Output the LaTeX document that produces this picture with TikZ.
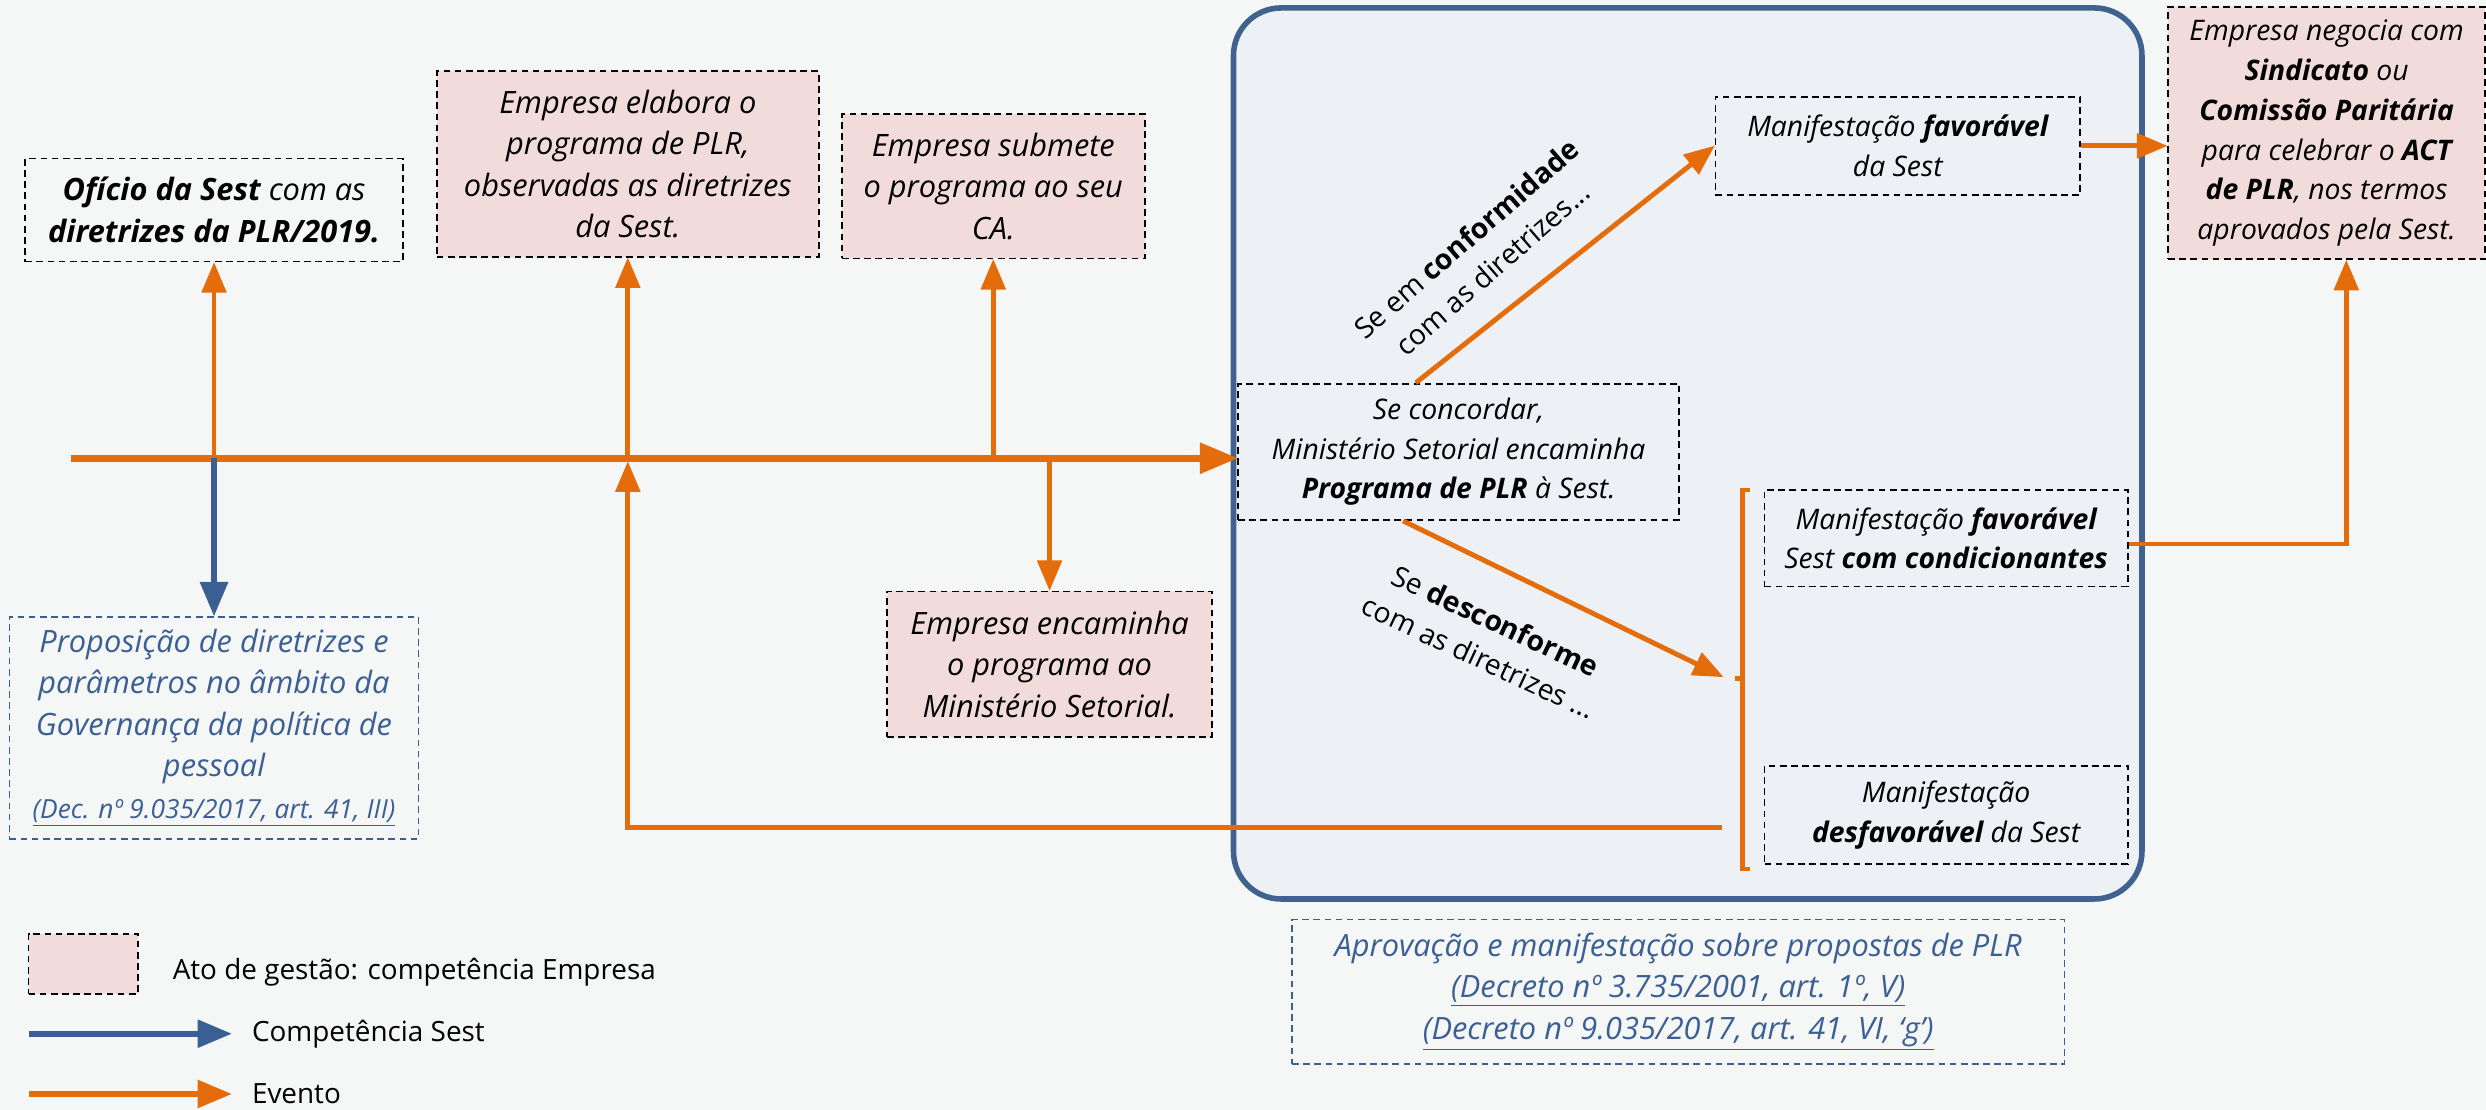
\documentclass[tikz,border=0pt]{standalone}
\usepackage{fontspec}
\setmainfont{Open Sans}
\usepackage{xcolor}
\usepackage{tikz}
\usetikzlibrary{arrows}

\definecolor{laranja}{HTML}{E46C0A}
\definecolor{azulsest}{HTML}{3B5F93}
\definecolor{azulborda}{HTML}{40628F}
\definecolor{rosa}{HTML}{F2DCDB}
\definecolor{fundo}{HTML}{F5F7F7}
\definecolor{quadro}{HTML}{EDF1F5}

\begin{document}
\begin{tikzpicture}[>=triangle 45, x=0.025cm, y=-0.025cm,
  txt/.style={font=\fontsize{12.7}{17.8}\selectfont\itshape, align=center, inner sep=2pt},
  maior/.style={font=\fontsize{13.8}{18.6}\selectfont\itshape},
  caixa/.style={txt, draw=black, line width=0.75pt, dash pattern=on 3pt off 2pt},
  ato/.style={caixa, fill=rosa},
  sest/.style={txt, maior, draw=azulsest, text=azulsest, line width=0.75pt, dash pattern=on 3pt off 2pt},
  evento/.style={draw=laranja, line width=2.2pt},
  rot/.style={font=\fontsize{12.7}{17.8}\selectfont, align=center},
  leg/.style={font=\fontsize{12.5}{15}\selectfont, anchor=west}]
  \useasboundingbox (0,0) rectangle (1568,700);
  \fill[fundo] (0,0) rectangle (1568,700);

  % quadro da Sest
  \draw[draw=azulborda, line width=2.5pt, fill=quadro, rounded corners=0.75cm]
    (778,5) rectangle (1351,567);

  % caixas
  \path (135,132.5) node[caixa, maior, minimum width=5.95cm, minimum height=1.625cm] (oficio)
    {\textbf{Ofício da Sest} com as\\\textbf{diretrizes da PLR/2019.}};
  \path (396,103.5) node[ato, maior, minimum width=6.025cm, minimum height=2.925cm] (elabora)
    {Empresa elabora o\\programa de PLR,\\observadas as diretrizes\\da Sest.};
  \path (626.5,117.5) node[ato, maior, minimum width=4.775cm, minimum height=2.275cm] (submete)
    {Empresa submete\\o programa ao seu\\CA.};
  \path (662,419) node[ato, maior, minimum width=5.125cm, minimum height=2.3cm] (encaminha)
    {Empresa encaminha\\o programa ao\\Ministério Setorial.};
  \path (135,459) node[sest, minimum width=6.45cm, minimum height=3.5cm] (prop)
    {Proposição de diretrizes e\\parâmetros no âmbito da\\Governança da política de\\pessoal\\
     {\fontsize{11.8}{15}\selectfont\underline{(Dec. nº 9.035/2017, art. 41, III)}}};
  \path (920,285) node[caixa, minimum width=6.95cm, minimum height=2.15cm] (conc)
    {Se concordar,\\Ministério Setorial encaminha\\\textbf{Programa de PLR} à Sest.};
  \path (1197,92) node[caixa, minimum width=5.75cm, minimum height=1.55cm] (fav1)
    {Manifestação \textbf{favorável}\\da Sest};
  \path (1467.5,84) node[ato, minimum width=5cm, minimum height=3.975cm] (negocia)
    {Empresa negocia com\\\textbf{Sindicato} ou\\\textbf{Comissão Paritária}\\para celebrar o \textbf{ACT}\\\textbf{de PLR}, nos termos\\aprovados pela Sest.};
  \path (1227.5,339.5) node[caixa, minimum width=5.725cm, minimum height=1.525cm] (fav2)
    {Manifestação \textbf{favorável}\\Sest \textbf{com condicionantes}};
  \path (1227.5,514) node[caixa, minimum width=5.725cm, minimum height=1.55cm] (desfav)
    {Manifestação\\\textbf{desfavorável} da Sest};
  \path (1058.5,625.5) node[sest, minimum width=12.175cm, minimum height=2.275cm] (aprov)
    {Aprovação e manifestação sobre propostas de PLR\\
     \underline{(Decreto nº 3.735/2001, art. 1º, V)}\\
     \underline{(Decreto nº 9.035/2017, art. 41, VI, ‘g’)}};

  % linha do tempo
  \coordinate (t0) at (45,289);
  \draw[evento, line width=3pt, ->] (t0) -- (t0 -| conc.west);
  \foreach \caixa in {oficio, elabora, submete}
    \draw[evento, ->] (\caixa.south |- t0) -- (\caixa.south);
  \draw[evento, ->] (encaminha.north |- t0) -- (encaminha.north);
  \draw[draw=azulsest, line width=2.6pt, ->] (oficio.south |- t0) -- (prop.north);

  % dentro do quadro
  \coordinate (chave) at (1087,427);
  \coordinate (volta) at (1086,522);
  \draw[evento, ->] ([xshift=-0.675cm]conc.north) -- (fav1.west);
  \draw[evento, ->] ([xshift=-0.875cm]conc.south) -- (chave);
  \path (933,160) node[rot, rotate=41] (conforme) {Se em \textbf{conformidade}\\com as diretrizes...};
  \path (938,403) node[rot, rotate=-25] (desconforme) {Se \textbf{desconforme}\\com as diretrizes ...};
  \draw[laranja, line width=2pt] (1104,309) -- (1099,309) -- (1099,548) -- (1104,548)
    (1099,428) -- (1094,428);
  \draw[evento, ->, shorten >=1.5pt] (volta) -| (elabora.south |- t0);
  \draw[evento, ->] (fav1.east) -- (fav1.east -| negocia.west);
  \draw[evento, ->] ([yshift=-0.09cm]fav2.east) -| ([xshift=0.31cm]negocia.south);

  % legenda
  \path (52.5,608) node[ato, minimum width=1.725cm, minimum height=0.95cm] (lato) {};
  \path (104,613) node[leg] (latotxt) {Ato de gestão: competência Empresa};
  \foreach \y/\cor/\nome/\rotulo in {652/azulsest/lsest/Competência Sest,
    690/laranja/levento/Evento}
  {
    \coordinate (\nome-ini) at (18,\y);
    \path (154,\y) node[leg] (\nome) {\rotulo};
    \draw[draw=\cor, line width=2.6pt, ->, shorten >=0.2cm] (\nome-ini) -- (\nome.west);
  }
\end{tikzpicture}
\end{document}
